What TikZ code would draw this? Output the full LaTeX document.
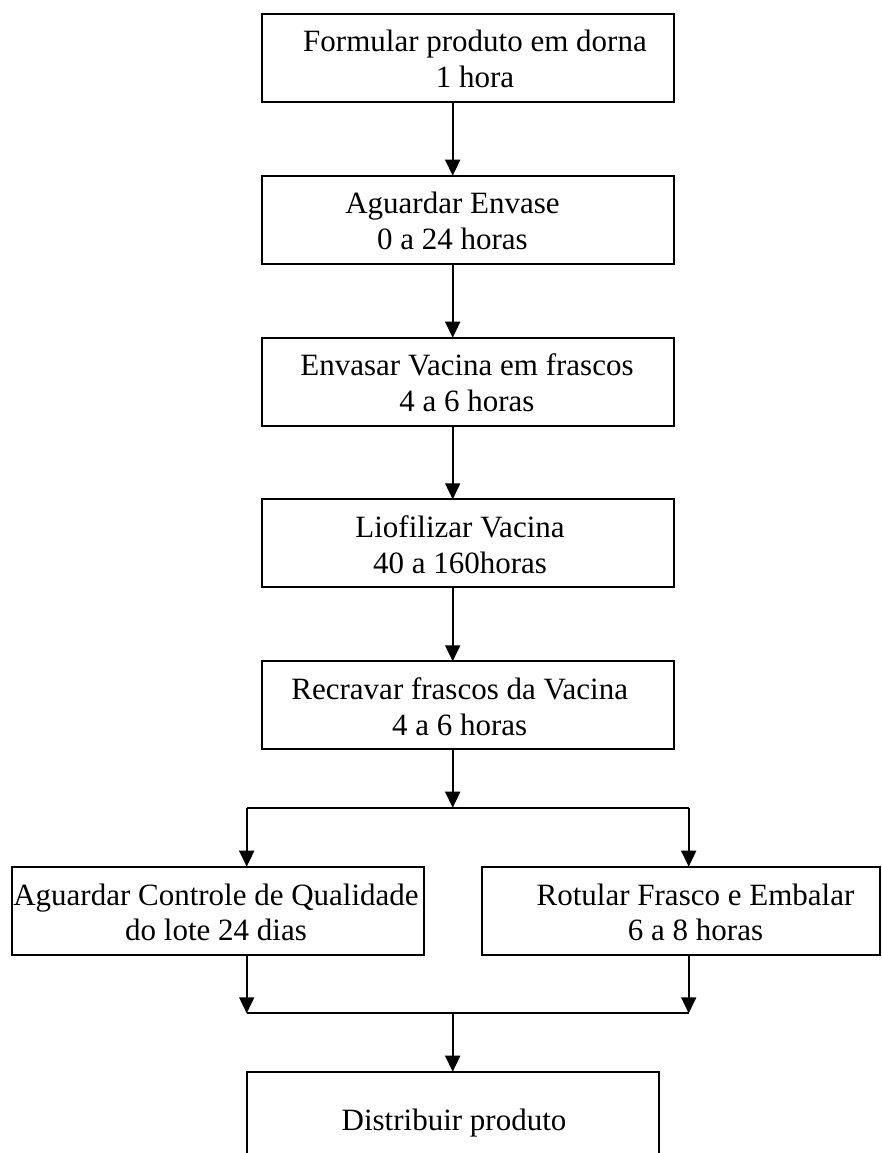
\documentclass[tikz,border=0pt]{standalone}
\usepackage{fontspec}
\setmainfont{Liberation Serif}
\usetikzlibrary{arrows.meta}
\newcommand\mytopstrut{\rule{0pt}{24pt}}
\begin{document}
\begin{tikzpicture}[x=1pt,y=-1pt,
  box/.style={draw,line width=1.8pt,inner sep=0pt,outer sep=0pt,minimum height=88pt,anchor=north west},
  lbl/.style={font=\fontsize{31}{35.6}\selectfont,align=center,inner sep=0pt,anchor=north},
  arr/.style={line width=1.8pt,-{Triangle[length=16pt,width=15pt]}},
  ln/.style={line width=1.8pt}]
\useasboundingbox (0,0) rectangle (882,1153);
\clip (0,0) rectangle (882,1153);
% boxes
\node[box,minimum width=412pt] (b1) at (262,14) {};
\node[box,minimum width=412pt] (b2) at (262,175.7) {};
\node[box,minimum width=412pt] (b3) at (262,337.7) {};
\node[box,minimum width=412pt] (b4) at (262,499.3) {};
\node[box,minimum width=412pt] (b5) at (262,661.3) {};
\node[box,minimum width=412pt,minimum height=88.6pt] (bq) at (12,866.7) {};
\node[box,minimum width=398pt,minimum height=88.6pt] (br) at (482,866.7) {};
\node[box,minimum width=411.7pt,minimum height=150pt] (bd) at (247.3,1071.7) {};
% texts
\node[lbl] (t1) at (475,27.7) {\mytopstrut Formular produto em dorna\\1 hora};
\node[lbl] (t2) at (452.5,189.7) {\mytopstrut Aguardar Envase\\0 a 24 horas};
\node[lbl] (t3) at (467,351.7) {\mytopstrut Envasar Vacina em frascos\\4 a 6 horas};
\node[lbl] (t4) at (460,513.3) {\mytopstrut Liofilizar Vacina\\40 a 160horas};
\node[lbl] (t5) at (459.7,675.3) {\mytopstrut Recravar frascos da Vacina\\4 a 6 horas};
\node[lbl] (tq) at (216,881) {\mytopstrut Aguardar Controle de Qualidade\\do lote 24 dias};
\node[lbl] (tr) at (695.5,881) {\mytopstrut Rotular Frasco e Embalar\\6 a 8 horas};
\node[lbl,anchor=base] (td) at (454,1130) {Distribuir produto};
% connectors
\coordinate (cx) at (452.7,0);
\draw[arr] (b1.south -| cx) -- (b2.north -| cx);
\draw[arr] (b2.south -| cx) -- (b3.north -| cx);
\draw[arr] (b3.south -| cx) -- (b4.north -| cx);
\draw[arr] (b4.south -| cx) -- (b5.north -| cx);
\coordinate (j) at (452.7,807.7);
\coordinate (jl) at (246.7,807.7);
\coordinate (jr) at (688.7,807.7);
\draw[arr] (b5.south -| cx) -- (j);
\draw[ln] (jl) -- (jr);
\draw[arr] (jl) -- (bq.north -| jl);
\draw[arr] (jr) -- (br.north -| jr);
\coordinate (k) at (452.7,1013.3);
\coordinate (kl) at (246.7,1013.3);
\coordinate (kr) at (688.7,1013.3);
\draw[arr] (bq.south -| kl) -- (kl);
\draw[arr] (br.south -| kr) -- (kr);
\draw[ln] (kl) -- (kr);
\draw[arr] (k) -- (bd.north -| k);
\end{tikzpicture}
\end{document}
